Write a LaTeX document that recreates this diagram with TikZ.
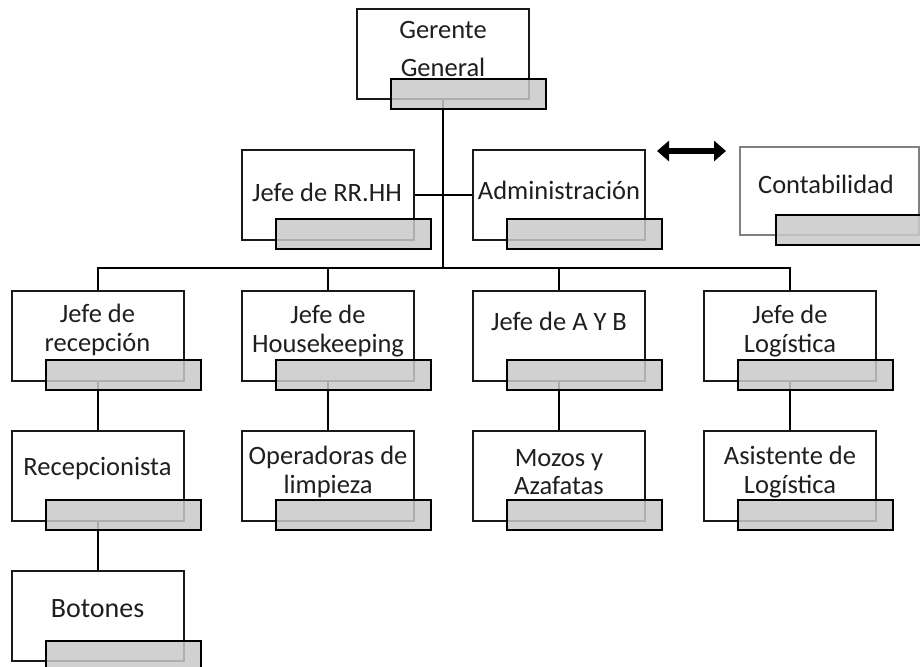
\documentclass[tikz,border=0pt]{standalone}
\usepackage{fontspec}
\setmainfont{Carlito}
\usetikzlibrary{arrows.meta}
\pgfdeclarelayer{bg}
\pgfsetlayers{bg,main}
\begin{document}
\begin{tikzpicture}[x=1pt,y=-1pt,
  box/.style={draw=black!90, line width=1.6pt, fill=white, minimum width=172pt, minimum height=90pt, inner sep=0pt, outer sep=0pt, anchor=north west},
  plate/.style={draw=black, line width=1.6pt, fill=gray!42, fill opacity=0.85, draw opacity=1, minimum width=155pt, minimum height=30pt, inner sep=0pt, outer sep=0pt, anchor=north west},
  lbl/.style={font=\fontsize{26.5}{28.5}\selectfont, align=center, inner sep=0pt, text=black!88},
  conn/.style={line width=1.6pt, draw=black},
  trunk/.style={line width=2.4pt, draw=black}]
\useasboundingbox (0,0) rectangle (920,666);
\clip (0,0) rectangle (920,666);
% boxes
\node[box] (g) at (357,9) {};
\node[box] (rh) at (242,150) {};
\node[box] (ad) at (473,150) {};
\node[box, draw=black!50, minimum width=179pt, minimum height=88pt] (co) at (740,147) {};
\node[box] (r1) at (12,291) {};
\node[box] (h1) at (242,291) {};
\node[box] (a1) at (473,291) {};
\node[box] (l1) at (704,291) {};
\node[box] (r2) at (12,431) {};
\node[box] (h2) at (242,431) {};
\node[box] (a2) at (473,431) {};
\node[box] (l2) at (704,431) {};
\node[box] (bo) at (12,571) {};
% labels
\node[lbl, font=\fontsize{26.5}{38}\selectfont] (tg) at (443,49) {Gerente\\General};
\node[lbl] (trh) at (327,192) {Jefe de RR.HH};
\node[lbl] (tad) at (559,190) {Administración};
\node[lbl] (tco) at (826,184) {Contabilidad};
\node[lbl] (tr1) at (97.5,330) {Jefe de\\recepción};
\node[lbl] (th1) at (328,331) {Jefe de\\Housekeeping};
\node[lbl] (ta1) at (559,321) {Jefe de A Y B};
\node[lbl] (tl1) at (790,331) {Jefe de\\Logística};
\node[lbl] (tr2) at (97.5,469) {Recepcionista};
\node[lbl] (th2) at (328,472) {Operadoras de\\limpieza};
\node[lbl] (ta2) at (559,472) {Mozos y\\Azafatas};
\node[lbl] (tl2) at (790,472) {Asistente de\\Logística};
\node[lbl, font=\fontsize{28}{30}\selectfont] (tbo) at (97.5,609) {Botones};
% plates
\node[plate] (pg) at (391,79) {};
\node[plate] (prh) at (276,219) {};
\node[plate] (pad) at (507,219) {};
\node[plate] (pco) at (776,215) {};
\node[plate] (pr1) at (46,360) {};
\node[plate] (ph1) at (276,360) {};
\node[plate] (pa1) at (507,360) {};
\node[plate] (pl1) at (738,360) {};
\node[plate] (pr2) at (46,500) {};
\node[plate] (ph2) at (276,500) {};
\node[plate] (pa2) at (507,500) {};
\node[plate] (pl2) at (738,500) {};
\node[plate] (pbo) at (46,641) {};
% arrow
\coordinate (al) at (657,151);
\coordinate (ar) at (726,151);
\draw[line width=6.5pt, {Triangle[width=20pt,length=12pt]}-{Triangle[width=20pt,length=12pt]}] (al) -- (ar);
% connectors
\coordinate (bus) at (443,268);
\begin{pgfonlayer}{bg}
\draw[trunk] (g.south) -- (bus);
\draw[conn] (rh.east) -- (rh.east -| bus);
\draw[conn] (ad.west) -- (ad.west -| bus);
\draw[conn] (r1.north) -- (r1.north |- bus) -- (l1.north |- bus) -- (l1.north);
\draw[conn] (h1.north) -- (h1.north |- bus);
\draw[conn] (a1.north) -- (a1.north |- bus);
\draw[conn] (r1.south) -- (r2.north);
\draw[conn] (h1.south) -- (h2.north);
\draw[conn] (a1.south) -- (a2.north);
\draw[conn] (l1.south) -- (l2.north);
\draw[conn] (r2.south) -- (bo.north);
\end{pgfonlayer}
\end{tikzpicture}
\end{document}
